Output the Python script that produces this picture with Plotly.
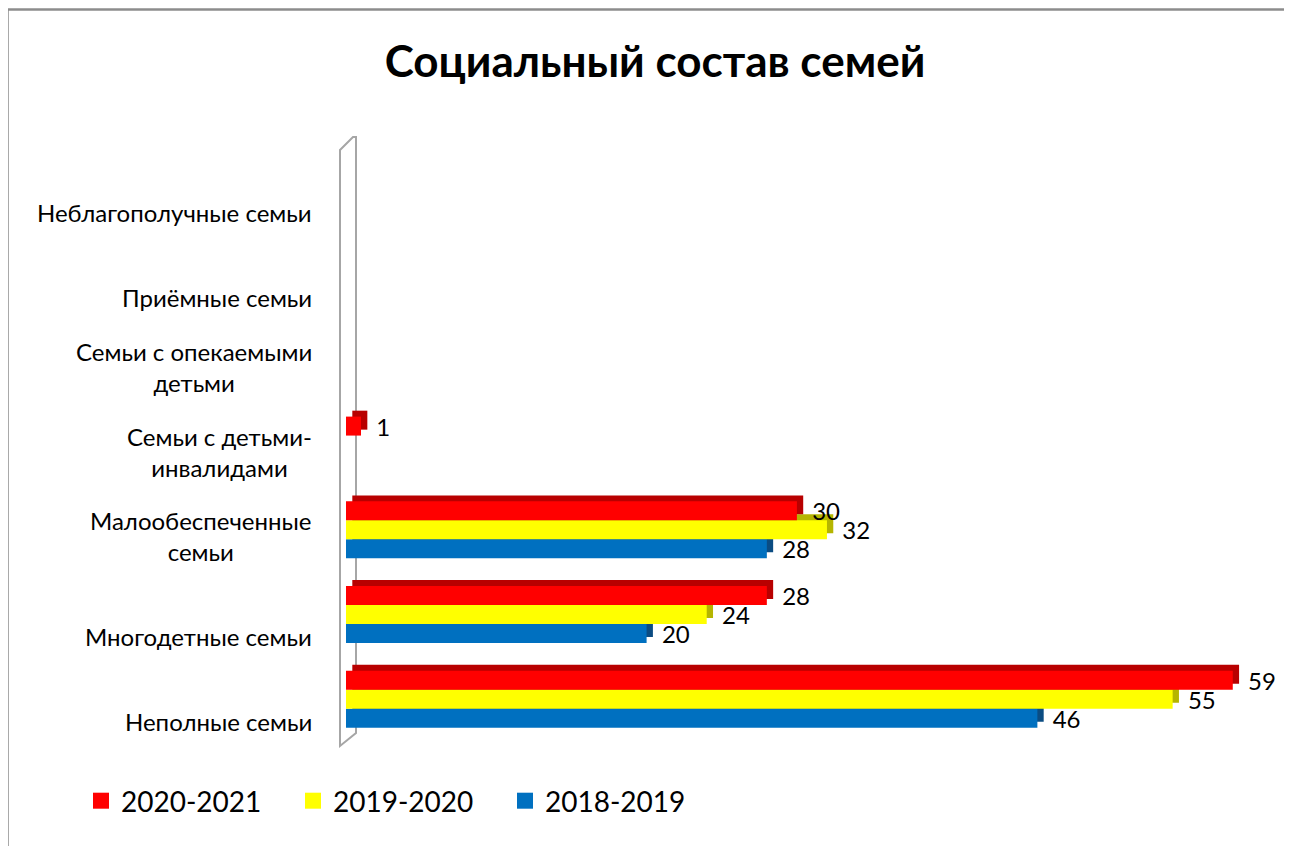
import plotly.graph_objects as go

# ---- data ----
categories = ["Неполные семьи", "Многодетные семьи", "Малообеспеченные<br>семьи",
              "Семьи с детьми-<br>инвалидами", "Семьи с опекаемыми<br>детьми",
              "Приёмные семьи", "Неблагополучные семьи"]
series_names = ["2020-2021", "2019-2020", "2018-2019"]
v_2020_2021 = [59, 28, 30, 1, None, None, None]
v_2019_2020 = [55, 24, 32, None, None, None, None]
v_2018_2019 = [46, 20, 28, None, None, None, None]
title_text = "Социальный состав семей"

# ---- layout geometry (page pixel coords; the page body has an 8px margin) ----
PAGE_OFF = 8
W, H = 1292 - PAGE_OFF, 846 - PAGE_OFF
PLOT_X0, PLOT_X1 = 346, 1272      # page px of x range
PLOT_Y0, PLOT_Y1 = 170, 763       # page px of y range top / bottom
L = PLOT_X0 - PAGE_OFF
R = W - (PLOT_X1 - PAGE_OFF)
T = PLOT_Y0 - PAGE_OFF
B = H - (PLOT_Y1 - PAGE_OFF)
PW, PH = W - L - R, H - T - B
X_MAX = PW / 15.03


def px_x(px):
    return (px - PLOT_X0) / PW


def px_y(py):
    return (PLOT_Y1 - py) / PH


FONT = "Lato, 'Open Sans', sans-serif"
front_colors = {"2020-2021": "#FF0000", "2019-2020": "#FFFF00", "2018-2019": "#0070C0"}
side_colors = {"2020-2021": "#B80000", "2019-2020": "#B5B500", "2018-2019": "#0B4C82"}
bar_w = 0.224
offsets = {"2018-2019": -0.083, "2019-2020": 0.141, "2020-2021": 0.365}
depth_x = 0.42   # ~6 px
depth_y = 0.07   # ~6 px
values = {"2020-2021": v_2020_2021, "2019-2020": v_2019_2020, "2018-2019": v_2018_2019}
rank = {"2020-2021": 1, "2019-2020": 2, "2018-2019": 3}

fig = go.Figure()
draw_order = ["2018-2019", "2019-2020", "2020-2021"]
# 3D depth faces first
for name in draw_order:
    fig.add_trace(go.Bar(
        y=categories, x=values[name], orientation="h", base=depth_x,
        offset=offsets[name] + depth_y, width=bar_w,
        marker=dict(color=side_colors[name], line=dict(width=0)),
        showlegend=False, hoverinfo="skip", legendgroup=name))
# front faces
for name in draw_order:
    fig.add_trace(go.Bar(
        y=categories, x=values[name], orientation="h", name=name,
        offset=offsets[name], width=bar_w,
        marker=dict(color=front_colors[name], line=dict(width=0)),
        texttemplate="\u00a0\u00a0%{x}", textposition="outside",
        textfont=dict(family=FONT, size=24, color="black"),
        constraintext="none", cliponaxis=False, showlegend=False,
        legendgroup=name))
# legend keys (square swatches)
for name in series_names:
    fig.add_trace(go.Scatter(
        x=[None], y=[None], mode="markers", name=name, legendgroup=name,
        legendrank=rank[name],
        marker=dict(symbol="square", size=16, color=front_colors[name],
                    line=dict(width=0))))

# category labels
annotations = []
for c in categories:
    annotations.append(dict(
        x=px_x(314), xref="paper", y=c, yref="y", text=c, showarrow=False,
        xanchor="right", yanchor="bottom", align="center", yshift=-17,
        font=dict(family=FONT, size=24, color="black")))

shapes = [
    # outer frame
    dict(type="line", xref="paper", yref="paper", x0=px_x(7.5), x1=px_x(1310),
         y0=px_y(9.5), y1=px_y(9.5), line=dict(color="#8C8C8C", width=2.5)),
    dict(type="line", xref="paper", yref="paper", x0=px_x(7.5), x1=px_x(7.5),
         y0=px_y(9), y1=px_y(870), line=dict(color="#8C8C8C", width=2.5)),
    # 3D wall
    dict(type="path", xref="paper", yref="paper", layer="below",
         path=(f"M {px_x(340)},{px_y(150)} L {px_x(353)},{px_y(137)} "
               f"L {px_x(356)},{px_y(137)} L {px_x(356)},{px_y(733)} "
               f"L {px_x(340)},{px_y(746)} Z"),
         line=dict(color="#A6A6A6", width=2), fillcolor="rgba(0,0,0,0)"),
]

fig.update_layout(
    width=W, height=H, barmode="overlay",
    margin=dict(l=L, r=R, t=T, b=B),
    paper_bgcolor="white", plot_bgcolor="white",
    title=dict(text=f"<b>{title_text}</b>", xref="container",
               x=(655 - PAGE_OFF) / W, xanchor="center",
               yref="container", y=1 - (62 - PAGE_OFF) / H, yanchor="middle",
               font=dict(family=FONT, size=44, color="black")),
    xaxis=dict(range=[0, X_MAX], visible=False, fixedrange=True),
    yaxis=dict(type="category", categoryorder="array", categoryarray=categories,
               range=[-0.5, 6.5], showticklabels=False, showgrid=False,
               zeroline=False, showline=False, ticks=""),
    legend=dict(orientation="h", x=px_x(81), xanchor="left", y=px_y(801),
                yanchor="middle", font=dict(family=FONT, size=28, color="black"),
                entrywidth=167, itemwidth=30, itemsizing="trace",
                bgcolor="rgba(0,0,0,0)"),
    annotations=annotations, shapes=shapes,
    showlegend=True,
)

fig.write_html("out.html")
